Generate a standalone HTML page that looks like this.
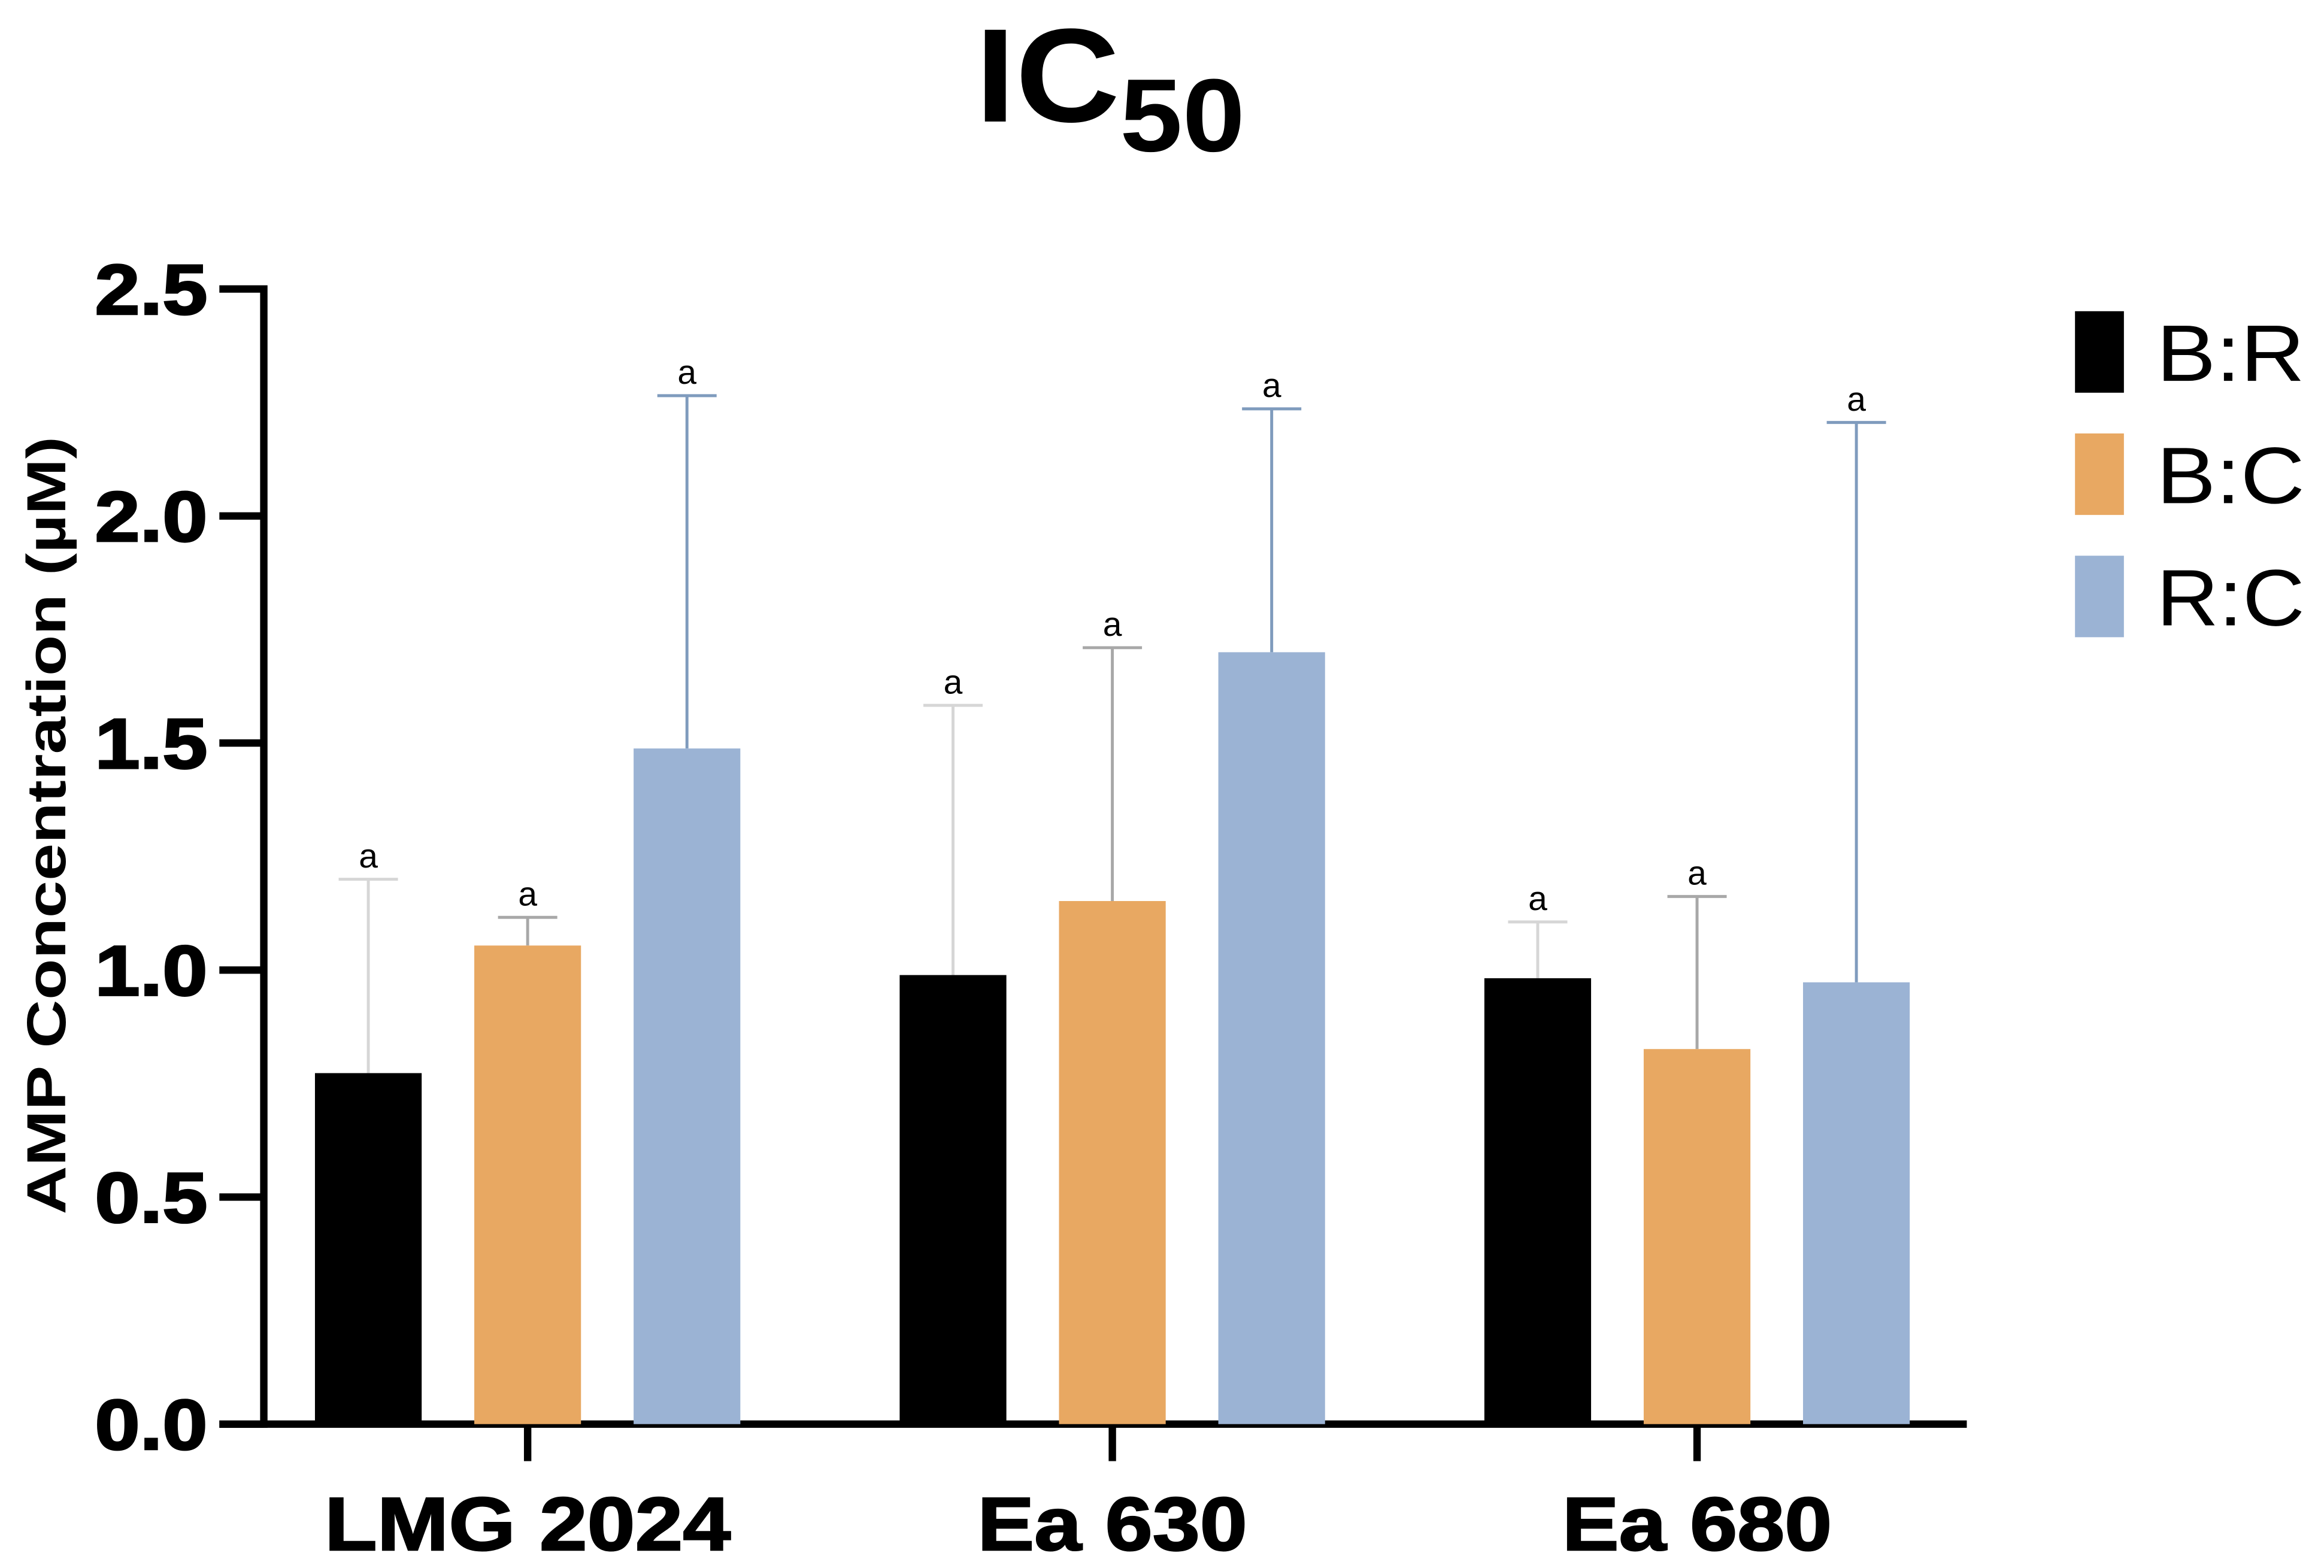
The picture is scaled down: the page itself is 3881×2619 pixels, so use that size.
<!DOCTYPE html>
<html><head><meta charset="utf-8"><style>
html,body{margin:0;padding:0;background:#fff;}
svg{display:block;}
text{font-family:"Liberation Sans",Arial,sans-serif;}
</style></head><body>
<svg id="chart" width="3881" height="2619" viewBox="0 0 1568 1058.1" preserveAspectRatio="none" xmlns="http://www.w3.org/2000/svg">
<rect width="1568" height="1058.1" fill="#fff"/>
<text x="658" y="82" font-size="90" font-weight="bold" fill="#000" textLength="182" lengthAdjust="spacingAndGlyphs">IC<tspan font-size="70" dy="20">50</tspan></text>
<text transform="translate(44,557) rotate(-90)" text-anchor="middle" font-size="37" font-weight="bold" fill="#000" textLength="525" lengthAdjust="spacingAndGlyphs">AMP Concentration (µM)</text>
<g id="axes"></g>
<g id="bars"></g>
<g id="legend"></g>
</svg>
<script>
const categories = ["LMG 2024", "Ea 630", "Ea 680"];
const seriesNames = ["B:R", "B:C", "R:C"];
const brValues = [0.773, 0.989, 0.982];
const bcValues = [1.054, 1.152, 0.826];
const rcValues = [1.488, 1.700, 0.973];
const brErrTop = [1.20, 1.583, 1.106];
const bcErrTop = [1.116, 1.71, 1.162];
const rcErrTop = [2.265, 2.236, 2.206];
const sigLabels = [["a","a","a"],["a","a","a"],["a","a","a"]];
const yTicks = [0, 0.5, 1.0, 1.5, 2.0, 2.5];
const yTickLabels = ["0.0", "0.5", "1.0", "1.5", "2.0", "2.5"];

const NS = "http://www.w3.org/2000/svg";
const fills = ["#000000", "#e8a862", "#9bb3d4"];
const errColors = ["#d6d6d6", "#a8a8a8", "#7f9bbd"];
const X0 = 178, XEND = 1327, Y0 = 961, YTOP = 195, YMAX = 2.5;
const groupCenters0 = 356, groupStep = 394.5, barOffset = 107.5, barW = 72;
function yScale(v){ return Y0 - (v / YMAX) * (Y0 - YTOP); }
function xScale(i){ return groupCenters0 + i * groupStep; }
function mk(tag, attrs, parent){ const e = document.createElementNS(NS, tag); for (const k in attrs) e.setAttribute(k, attrs[k]); parent.appendChild(e); return e; }

const axes = document.getElementById("axes");
const yAxis = mk("line", {x1:X0, y1:YTOP-2.5, x2:X0, y2:Y0+2.5, stroke:"#000", "stroke-width":5}, axes);


const xAxis = mk("line", {x1:148, y1:Y0, x2:XEND, y2:Y0, stroke:"#000", "stroke-width":5}, axes);


yTicks.forEach((t, i) => {
  const y = yScale(t);
  const tk = mk("line", {x1:148, y1:y, x2:X0, y2:y, stroke:"#000", "stroke-width":5}, axes);
  
  
  const lb = mk("text", {x:140, y:y+17, "text-anchor":"end", "font-size":48, "font-weight":"bold", fill:"#000", textLength:76, lengthAdjust:"spacingAndGlyphs", stroke:"#000", "stroke-width":1.2}, axes);
  lb.textContent = yTickLabels[i];
  
  
});
const catWidths = [274, 182, 182];
categories.forEach((c, i) => {
  const x = xScale(i);
  const tk = mk("line", {x1:x, y1:Y0, x2:x, y2:Y0+25, stroke:"#000", "stroke-width":5}, axes);
  
  
  const lb = mk("text", {x:x, y:1046, "text-anchor":"middle", "font-size":51, "font-weight":"bold", fill:"#000", textLength:catWidths[i], lengthAdjust:"spacingAndGlyphs", stroke:"#000", "stroke-width":1}, axes);
  lb.textContent = c;
  
  
});

const bars = document.getElementById("bars");
const allVals = [brValues, bcValues, rcValues];
const allErr = [brErrTop, bcErrTop, rcErrTop];
categories.forEach((c, i) => {
  for (let s = 0; s < 3; s++) {
    const cx = xScale(i) + (s - 1) * barOffset;
    const v = allVals[s][i], e = allErr[s][i];
    const yt = yScale(v), ye = yScale(e);
    const el = mk("line", {x1:cx, y1:yt, x2:cx, y2:ye, stroke:errColors[s], "stroke-width":2}, bars);
    
    
    const cap = mk("line", {x1:cx-20, y1:ye, x2:cx+20, y2:ye, stroke:errColors[s], "stroke-width":2}, bars);
    
    
    const r = mk("rect", {x:cx-barW/2, y:yt, width:barW, height:Y0-yt, fill:fills[s]}, bars);
    
    
    const t = mk("text", {x:cx, y:ye-8, "text-anchor":"middle", "font-size":23, fill:"#000"}, bars);
    t.textContent = sigLabels[i][s];
    
    
  }
});

const legend = document.getElementById("legend");
seriesNames.forEach((n, s) => {
  const y = 210 + s * 82.5;
  const sw = mk("rect", {x:1400, y:y, width:33, height:55, fill:fills[s]}, legend);
  
  
  const t = mk("text", {x:1455, y:y+47, "font-size":54, fill:"#000", textLength:100, lengthAdjust:"spacingAndGlyphs"}, legend);
  t.textContent = n;
  
  
});
</script>
</body></html>
